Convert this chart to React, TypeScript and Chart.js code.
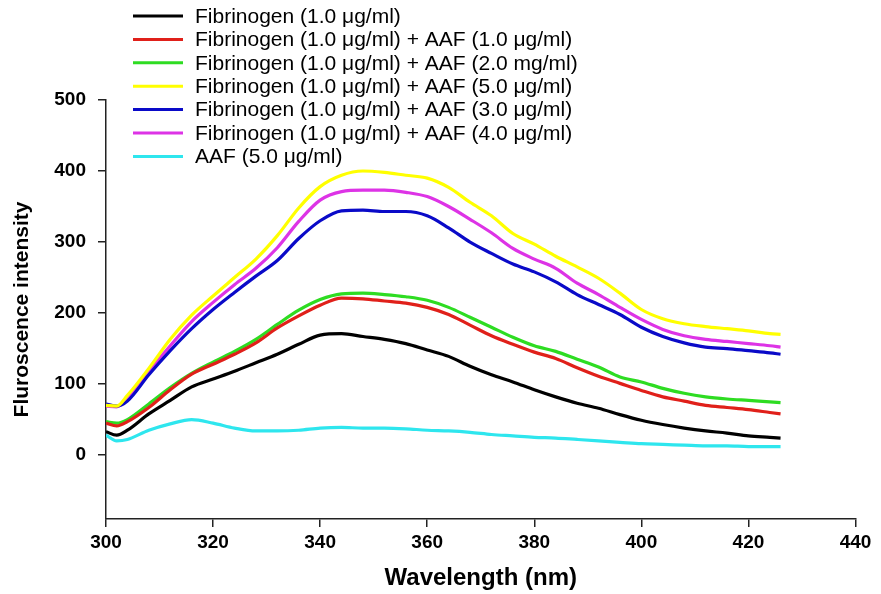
import React, { useEffect, useRef } from "react";
import { Chart, registerables } from "chart.js";

Chart.register(...registerables);

// ---- data ----
const WAVELENGTHS = [300, 302, 304, 308, 312, 316, 320, 324, 328, 332, 336, 340, 344, 348, 352, 356, 360, 364, 368, 372, 376, 380, 384, 388, 392, 396, 400, 404, 408, 412, 416, 420, 424, 426];

const FIBRINOGEN = [33, 28, 35, 58, 77, 96, 107, 118, 130, 142, 156, 169, 171, 167, 163, 157, 148, 139, 125, 113, 103, 92, 82, 73, 66, 57, 49, 43, 38, 34, 31, 27, 25, 24];
const FIB_AAF_1 = [45, 41, 47, 67, 92, 114, 128, 142, 158, 179, 196, 211, 221, 220, 217, 214, 208, 198, 183, 168, 156, 145, 136, 123, 111, 101, 91, 82, 76, 70, 67, 64, 60, 58];
const FIB_AAF_2 = [47, 45, 50, 72, 95, 115, 131, 146, 163, 184, 204, 219, 227, 228, 226, 223, 218, 208, 194, 180, 166, 154, 146, 135, 124, 110, 103, 94, 87, 82, 79, 77, 75, 74];
const FIB_AAF_5 = [70, 69, 84, 122, 163, 197, 224, 250, 276, 309, 348, 378, 394, 400, 398, 394, 390, 377, 356, 337, 312, 297, 280, 265, 249, 228, 205, 192, 185, 181, 178, 175, 171, 170];
const FIB_AAF_3 = [72, 69, 76, 113, 147, 178, 205, 229, 252, 274, 305, 330, 344, 345, 343, 343, 337, 320, 300, 284, 269, 258, 244, 226, 212, 198, 180, 167, 158, 152, 150, 147, 144, 142];
const FIB_AAF_4 = [69, 68, 78, 118, 154, 188, 215, 240, 263, 292, 329, 359, 371, 373, 373, 370, 364, 350, 332, 313, 291, 276, 263, 242, 226, 208, 191, 177, 168, 163, 160, 157, 154, 152];
const AAF_ONLY = [28, 20, 22, 35, 44, 50, 45, 38, 34, 34, 35, 38, 39, 38, 38, 37, 35, 34, 32, 29, 27, 25, 24, 22, 20, 18, 16, 15, 14, 13, 13, 12, 12, 12];

const SERIES_LABELS = [
  "Fibrinogen (1.0 μg/ml)",
  "Fibrinogen (1.0 μg/ml) + AAF (1.0 μg/ml)",
  "Fibrinogen (1.0 μg/ml) + AAF (2.0 mg/ml)",
  "Fibrinogen (1.0 μg/ml) + AAF (5.0 μg/ml)",
  "Fibrinogen (1.0 μg/ml) + AAF (3.0 μg/ml)",
  "Fibrinogen (1.0 μg/ml) + AAF (4.0 μg/ml)",
  "AAF (5.0 μg/ml)",
];
const SERIES_VALUES = [FIBRINOGEN, FIB_AAF_1, FIB_AAF_2, FIB_AAF_5, FIB_AAF_3, FIB_AAF_4, AAF_ONLY];
const SERIES_COLORS = ["#000000", "#e0201a", "#2edc22", "#ffff00", "#0a0ac8", "#dd33e6", "#2ee6ee"];

const X_TICKS = [300, 320, 340, 360, 380, 400, 420, 440];
const Y_TICKS = [0, 100, 200, 300, 400, 500];

const FAMILY = '"Liberation Sans", Arial, Helvetica, sans-serif';

const cornerLegend = {
  id: "cornerLegend",
  afterDraw(chart: any) {
    const ctx = chart.ctx;
    ctx.save();
    ctx.font = `21px ${FAMILY}`;
    ctx.textBaseline = "middle";
    ctx.textAlign = "left";
    chart.data.datasets.forEach((ds: any, i: number) => {
      const y = 16 + i * 23.4;
      ctx.strokeStyle = ds.borderColor;
      ctx.lineWidth = 3;
      ctx.beginPath();
      ctx.moveTo(133, y);
      ctx.lineTo(183, y);
      ctx.stroke();
      ctx.fillStyle = "#000";
      ctx.fillText(ds.label, 195, y + 1);
    });
    ctx.restore();
  },
};

export default function App() {
  const ref = useRef<HTMLCanvasElement>(null);

  useEffect(() => {
    document.body.style.margin = "0";
    const axisColor = "#222";
    const chart = new Chart(ref.current as HTMLCanvasElement, {
      type: "line",
      data: {
        datasets: SERIES_VALUES.map((vals, i) => ({
          label: SERIES_LABELS[i],
          data: WAVELENGTHS.map((x, j) => ({ x, y: vals[j] })),
          borderColor: SERIES_COLORS[i],
          backgroundColor: SERIES_COLORS[i],
          borderWidth: 3.2,
          pointRadius: 0,
          fill: false,
          cubicInterpolationMode: "monotone" as const,
        })),
      },
      options: {
        animation: false,
        responsive: false,
        devicePixelRatio: 1,
        layout: { padding: { top: 100, right: 25.5, bottom: 0, left: 0 } },
        plugins: {
          legend: { display: false },
          tooltip: { enabled: false },
        },
        scales: {
          x: {
            type: "linear",
            min: 300,
            max: 440,
            afterBuildTicks: (s: any) => {
              s.ticks = X_TICKS.map((v) => ({ value: v }));
            },
            afterFit: (s: any) => {
              s.height = 75;
            },
            grid: { drawOnChartArea: false, drawTicks: true, tickLength: 8, color: axisColor, lineWidth: 1.5 },
            border: { display: true, color: axisColor, width: 1.5 },
            ticks: {
              color: "#000",
              font: { family: FAMILY, size: 19, weight: "bold" },
              padding: 4,
              maxRotation: 0,
              autoSkip: false,
            },
            title: {
              display: true,
              text: "Wavelength (nm)",
              color: "#000",
              font: { family: FAMILY, size: 24, weight: "bold" },
              padding: { top: 0, bottom: 1 },
            },
          },
          y: {
            type: "linear",
            min: -90,
            max: 500,
            afterBuildTicks: (s: any) => {
              s.ticks = Y_TICKS.map((v) => ({ value: v }));
            },
            afterFit: (s: any) => {
              s.width = 106;
            },
            grid: { drawOnChartArea: false, drawTicks: true, tickLength: 8, color: axisColor, lineWidth: 1.5 },
            border: { display: true, color: axisColor, width: 1.5 },
            ticks: {
              color: "#000",
              font: { family: FAMILY, size: 19, weight: "bold" },
              padding: 12,
            },
            title: {
              display: true,
              text: "Fluroscence intensity",
              color: "#000",
              font: { family: FAMILY, size: 21, weight: "bold" },
              padding: { top: 10, bottom: 0 },
            },
          },
        },
      },
      plugins: [cornerLegend],
    } as any);
    return () => chart.destroy();
  }, []);

  return (
    <div style={{ width: 881, height: 594, position: "relative" }}>
      <canvas ref={ref} width={881} height={594} />
    </div>
  );
}
